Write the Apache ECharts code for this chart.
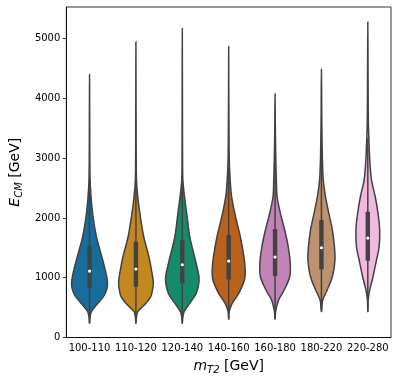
<!DOCTYPE html>
<html>
<head>
<meta charset="utf-8">
<script src="https://cdn.jsdelivr.net/npm/echarts@6/dist/echarts.min.js"></script>
<style>
  html, body { margin: 0; padding: 0; background: #fff; }
  #chart { width: 398px; height: 381px; }
</style>
</head>
<body>
<div id="chart"></div>
<script>
// categories of m_T2
const categories = ['100-110', '110-120', '120-140', '140-160', '160-180', '180-220', '220-280'];
const yTicks = [0, 1000, 2000, 3000, 4000, 5000];
const colors = ['#176d9c', '#c38820', '#168b6b', '#ba611b', '#c283b6', '#bd926e', '#f1b8e0'];

// violin outlines: E_CM values and relative density (1 = widest)
const violinEnergy = [
  [237, 330, 432, 543, 683, 760, 850, 950, 1073, 1200, 1351, 1518, 1686, 2020, 2354, 2634, 3000, 3500, 4000, 4400],
  [237, 330, 432, 543, 683, 850, 950, 1073, 1351, 1686, 2020, 2354, 2634, 3000, 3600, 4200, 4950],
  [237, 330, 432, 572, 739, 906, 1017, 1073, 1351, 1686, 2020, 2354, 2634, 3000, 3600, 4300, 5170],
  [304, 432, 572, 739, 962, 1128, 1351, 1686, 2020, 2354, 2634, 3000, 3600, 4200, 4870],
  [304, 432, 627, 794, 1017, 1240, 1518, 1798, 2076, 2355, 2634, 3000, 3500, 4080],
  [432, 627, 794, 1017, 1296, 1518, 1798, 2076, 2355, 2634, 3000, 3600, 4100, 4490],
  [432, 627, 794, 1017, 1240, 1518, 1798, 2076, 2355, 2634, 2900, 3135, 3600, 4300, 5280],
];
const violinDensity = [
  [0, 0.025, 0.10, 0.37, 0.75, 0.88, 0.96, 0.96, 0.89, 0.79, 0.66, 0.51, 0.37, 0.19, 0.08, 0.03, 0.015, 0.01, 0.005, 0],
  [0, 0.025, 0.10, 0.45, 0.80, 0.92, 0.93, 0.87, 0.70, 0.42, 0.24, 0.10, 0.03, 0.015, 0.01, 0.005, 0],
  [0, 0.025, 0.10, 0.40, 0.75, 0.89, 0.90, 0.87, 0.66, 0.40, 0.26, 0.12, 0.03, 0.015, 0.01, 0.005, 0],
  [0, 0.03, 0.19, 0.54, 0.85, 0.89, 0.82, 0.63, 0.37, 0.16, 0.08, 0.03, 0.015, 0.005, 0],
  [0, 0.03, 0.19, 0.49, 0.79, 0.82, 0.71, 0.52, 0.29, 0.11, 0.07, 0.04, 0.015, 0],
  [0, 0.07, 0.31, 0.59, 0.73, 0.70, 0.59, 0.40, 0.22, 0.10, 0.05, 0.02, 0.01, 0],
  [0, 0.02, 0.10, 0.28, 0.43, 0.61, 0.64, 0.55, 0.40, 0.20, 0.12, 0.08, 0.03, 0.015, 0],
];

// inner box
const q1 = [823, 850, 906, 973, 1028, 1140, 1284];
const medians = [1112, 1146, 1217, 1279, 1346, 1502, 1664];
const q3 = [1535, 1602, 1630, 1714, 1814, 1965, 2104];
const whiskerLow = [237, 237, 237, 304, 304, 432, 432];
const whiskerHigh = [2603, 2730, 2716, 2826, 2993, 3200, 3334];

const lineColor = '#424242';
const chart = echarts.init(document.getElementById('chart'));

const renderViolin = (params, api) => {
  const i = params.dataIndex;
  const band = api.size([1, 0])[0];
  const half = band * 0.4;
  const cx = api.coord([i, 0])[0];
  const es = violinEnergy[i];
  const ds = violinDensity[i];
  const left = [];
  const right = [];
  for (let k = 0; k < es.length; k++) {
    const y = api.coord([i, es[k]])[1];
    left.push([cx - ds[k] * half, y]);
    right.push([cx + ds[k] * half, y]);
  }
  const points = left.concat(right.slice(1, -1).reverse());
  const yq1 = api.coord([i, q1[i]])[1];
  const yq3 = api.coord([i, q3[i]])[1];
  return {
    type: 'group',
    children: [
      {
        type: 'polygon',
        shape: { points: points, smooth: 0.3 },
        style: { fill: colors[i], stroke: lineColor, lineWidth: 1.5 },
      },
      {
        type: 'line',
        shape: {
          x1: cx, y1: api.coord([i, whiskerLow[i]])[1],
          x2: cx, y2: api.coord([i, whiskerHigh[i]])[1],
        },
        style: { stroke: lineColor, lineWidth: 1.5 },
      },
      {
        type: 'rect',
        shape: { x: cx - 2.2, y: yq3, width: 4.4, height: yq1 - yq3 },
        style: { fill: lineColor },
      },
      {
        type: 'circle',
        shape: { cx: cx, cy: api.coord([i, medians[i]])[1], r: 1.6 },
        style: { fill: '#fff' },
      },
    ],
  };
};

const font = 'DejaVu Sans';
const nameRich = {
  i: { fontSize: 14, fontStyle: 'italic', fontFamily: font, color: '#000', lineHeight: 18 },
  s: { fontSize: 10, fontStyle: 'italic', fontFamily: font, color: '#000', lineHeight: 18, verticalAlign: 'bottom' },
  n: { fontSize: 14, fontFamily: font, color: '#000', lineHeight: 18 },
};
const options = {
  animation: false,
  grid: {
    left: 58, right: 7, top: 7, bottom: 43.5,
    show: true, borderColor: '#000', borderWidth: 0.8,
  },
  xAxis: {
    type: 'category',
    data: categories,
    axisLine: { lineStyle: { color: '#000', width: 0.8 } },
    axisTick: { alignWithLabel: true, length: 3.5, lineStyle: { color: '#000', width: 0.8 } },
    axisLabel: { color: '#000', fontSize: 10, fontFamily: font, margin: 6, interval: 0 },
    name: '{i|m}{s|T2}{n| [GeV]}',
    nameLocation: 'middle',
    nameGap: 20,
    nameTextStyle: { color: '#000', fontFamily: font, rich: nameRich },
  },
  yAxis: {
    type: 'value',
    min: 0,
    max: 5530,
    splitLine: { show: false },
    axisLine: { show: true, lineStyle: { color: '#000', width: 0.8 } },
    axisTick: { show: true, length: 3.5, customValues: yTicks, lineStyle: { color: '#000', width: 0.8 } },
    axisLabel: {
      color: '#000', fontSize: 10, fontFamily: font, margin: 6,
      customValues: yTicks,
      formatter: (v) => String(v),
    },
    name: '{i|E}{s|CM}{n| [GeV]}',
    nameLocation: 'middle',
    nameGap: 36,
    nameTextStyle: { color: '#000', fontFamily: font, rich: nameRich },
  },
  series: [
    {
      type: 'custom',
      renderItem: renderViolin,
      data: categories.map((c, i) => [i, medians[i]]),
      clip: false,
    },
  ],
};
chart.setOption(options);
</script>
</body>
</html>
